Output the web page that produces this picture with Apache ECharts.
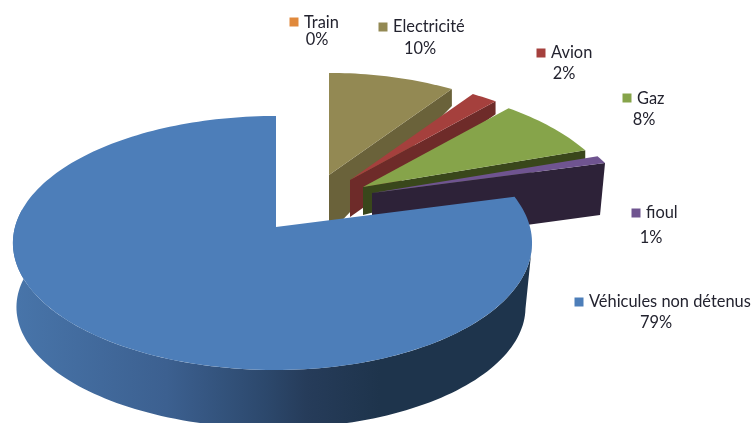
<!DOCTYPE html>
<html>
<head>
<meta charset="utf-8">
<style>html,body{margin:0;padding:0;background:#fff}#chart{width:753px;height:423px}</style>
<script src="https://cdn.jsdelivr.net/npm/echarts@6/dist/echarts.min.js"></script>
</head>
<body>
<div id="chart"></div>
<script>
// Energy shares, listed clockwise from twelve o'clock.
const categories = ['Train', 'Electricité', 'Avion', 'Gaz', 'fioul', 'Véhicules non détenus'];
const shares = [0, 10, 2, 8, 1, 79];

const topColors = ['#E0893C', '#938953', '#A5403D', '#86A44A', '#6F5490', '#4D7EB9'];
const sideColors = [null, '#6A623A', '#6E2B29', '#39471B', '#2D2238', '#1E344C'];

// Top plane of the pulled-out wedges and of the main wedge: apex, radii, perspective.
const wedgeApex = [null, [329, 175], [350, 180], [363, 187], [372, 193], [276, 227]];
const rimStretch = [1, 1, 1, 1, 1.015, 1];
const pulledPlane = { rxL: 252, rxR: 252, ry: 128, p: 0.254 };
const mainPlane = { rxL: 261, rxR: 254, ry: 125, p: 0.126 };
const mainFloor = { ax: 274.5, ay: 292, rxL: 256, rxR: 249, ry: 119, p: 0.126 };

// Drop of the cut face at the apex and at the rim, and the rim's sideways shift.
const cutFaces = [null, [59, 17, 0], [37, 13, 0], [28, 9, 0], [53, 52, -5]];

// Key square centre, name start, percentage centre, baselines' middles.
const labelSpots = [
  { sq: [294, 22], name: [304, 23], pct: [317, 40] },
  { sq: [383, 27], name: [393, 27], pct: [420, 49] },
  { sq: [541, 53], name: [551, 53], pct: [564, 74] },
  { sq: [627, 98], name: [637, 99], pct: [644, 120] },
  { sq: [636, 213], name: [646, 213], pct: [651, 238] },
  { sq: [579, 302], name: [589, 302], pct: [656, 323] }
];

const FONT = 'Lato, "Open Sans", sans-serif';
const DEG = Math.PI / 180;

function project(plane, ax, ay, deg, stretch) {
  const t = deg * DEG, sin = Math.sin(t), cos = Math.cos(t);
  const s = 1 / (1 + plane.p * cos);
  const rx = (sin > 0 ? plane.rxR : plane.rxL) * (stretch || 1);
  return [ax + rx * sin * s, ay - plane.ry * cos * s];
}

function arc(plane, ax, ay, from, to, stretch) {
  const pts = [];
  const n = Math.max(2, Math.ceil(Math.abs(to - from) / 1.5));
  for (let i = 0; i <= n; i++) pts.push(project(plane, ax, ay, from + (to - from) * i / n, stretch));
  return pts;
}

function poly(points, fill, z2) {
  return { type: 'polygon', z2: z2, shape: { points: points }, style: { fill: fill } };
}

function labelParts(i) {
  const spot = labelSpots[i];
  const textStyle = { font: '16.4px ' + FONT, fill: '#23232f', textVerticalAlign: 'middle' };
  return [
    { type: 'rect', z2: 50, shape: { x: spot.sq[0] - 4.5, y: spot.sq[1] - 4.5, width: 9, height: 9 },
      style: { fill: topColors[i] } },
    { type: 'text', z2: 50, style: Object.assign({ x: spot.name[0], y: spot.name[1], text: categories[i], textAlign: 'left' }, textStyle) },
    { type: 'text', z2: 50, style: Object.assign({ x: spot.pct[0], y: spot.pct[1], text: shares[i] + '%', textAlign: 'center' }, textStyle) }
  ];
}

function renderWedge(params, api) {
  const i = params.dataIndex;
  const value = api.value(1);
  const before = shares.slice(0, i).reduce((a, b) => a + b, 0);
  const total = shares.reduce((a, b) => a + b, 0);
  const from = before / total * 360;
  const to = (before + value) / total * 360;
  const children = [];

  if (value > 0) {
    const apex = wedgeApex[i];
    if (i === shares.length - 1) {
      // Main wedge: shaded outer wall, then its top face.
      const wallFill = new echarts.graphic.LinearGradient(12, 0, 380, 0, [
        { offset: 0, color: '#4875AA' },
        { offset: 0.42, color: '#3C6090' },
        { offset: 0.69, color: '#2C486C' },
        { offset: 0.8, color: '#263C5A' },
        { offset: 1, color: sideColors[i] }
      ], true);
      const upper = arc(mainPlane, apex[0], apex[1], 98, 278);
      const lower = arc(mainFloor, mainFloor.ax, mainFloor.ay, 98, 278).reverse();
      children.push(poly(upper.concat(lower), wallFill, i * 2));
      children.push(poly([apex].concat(arc(mainPlane, apex[0], apex[1], from, to)), topColors[i], i * 2 + 1));
    } else {
      // Pulled-out wedge: cut face at its clockwise end, then its top face.
      const rim = project(pulledPlane, apex[0], apex[1], to, rimStretch[i]);
      const cut = cutFaces[i];
      children.push(poly([
        apex, rim,
        [rim[0] + cut[2], rim[1] + cut[1]],
        [apex[0], apex[1] + cut[0]]
      ], sideColors[i], i * 2));
      children.push(poly([apex].concat(arc(pulledPlane, apex[0], apex[1], from, to, rimStretch[i])), topColors[i], i * 2 + 1));
    }
  }
  return { type: 'group', children: children.concat(labelParts(i)) };
}

const chart = echarts.init(document.getElementById('chart'), null, { renderer: 'canvas' });
chart.setOption({
  animation: false,
  backgroundColor: '#ffffff',
  series: [{
    type: 'custom',
    coordinateSystem: 'none',
    renderItem: renderWedge,
    silent: true,
    data: shares.map((v, i) => ({ name: categories[i], value: [i, v] }))
  }]
});
</script>
</body>
</html>
